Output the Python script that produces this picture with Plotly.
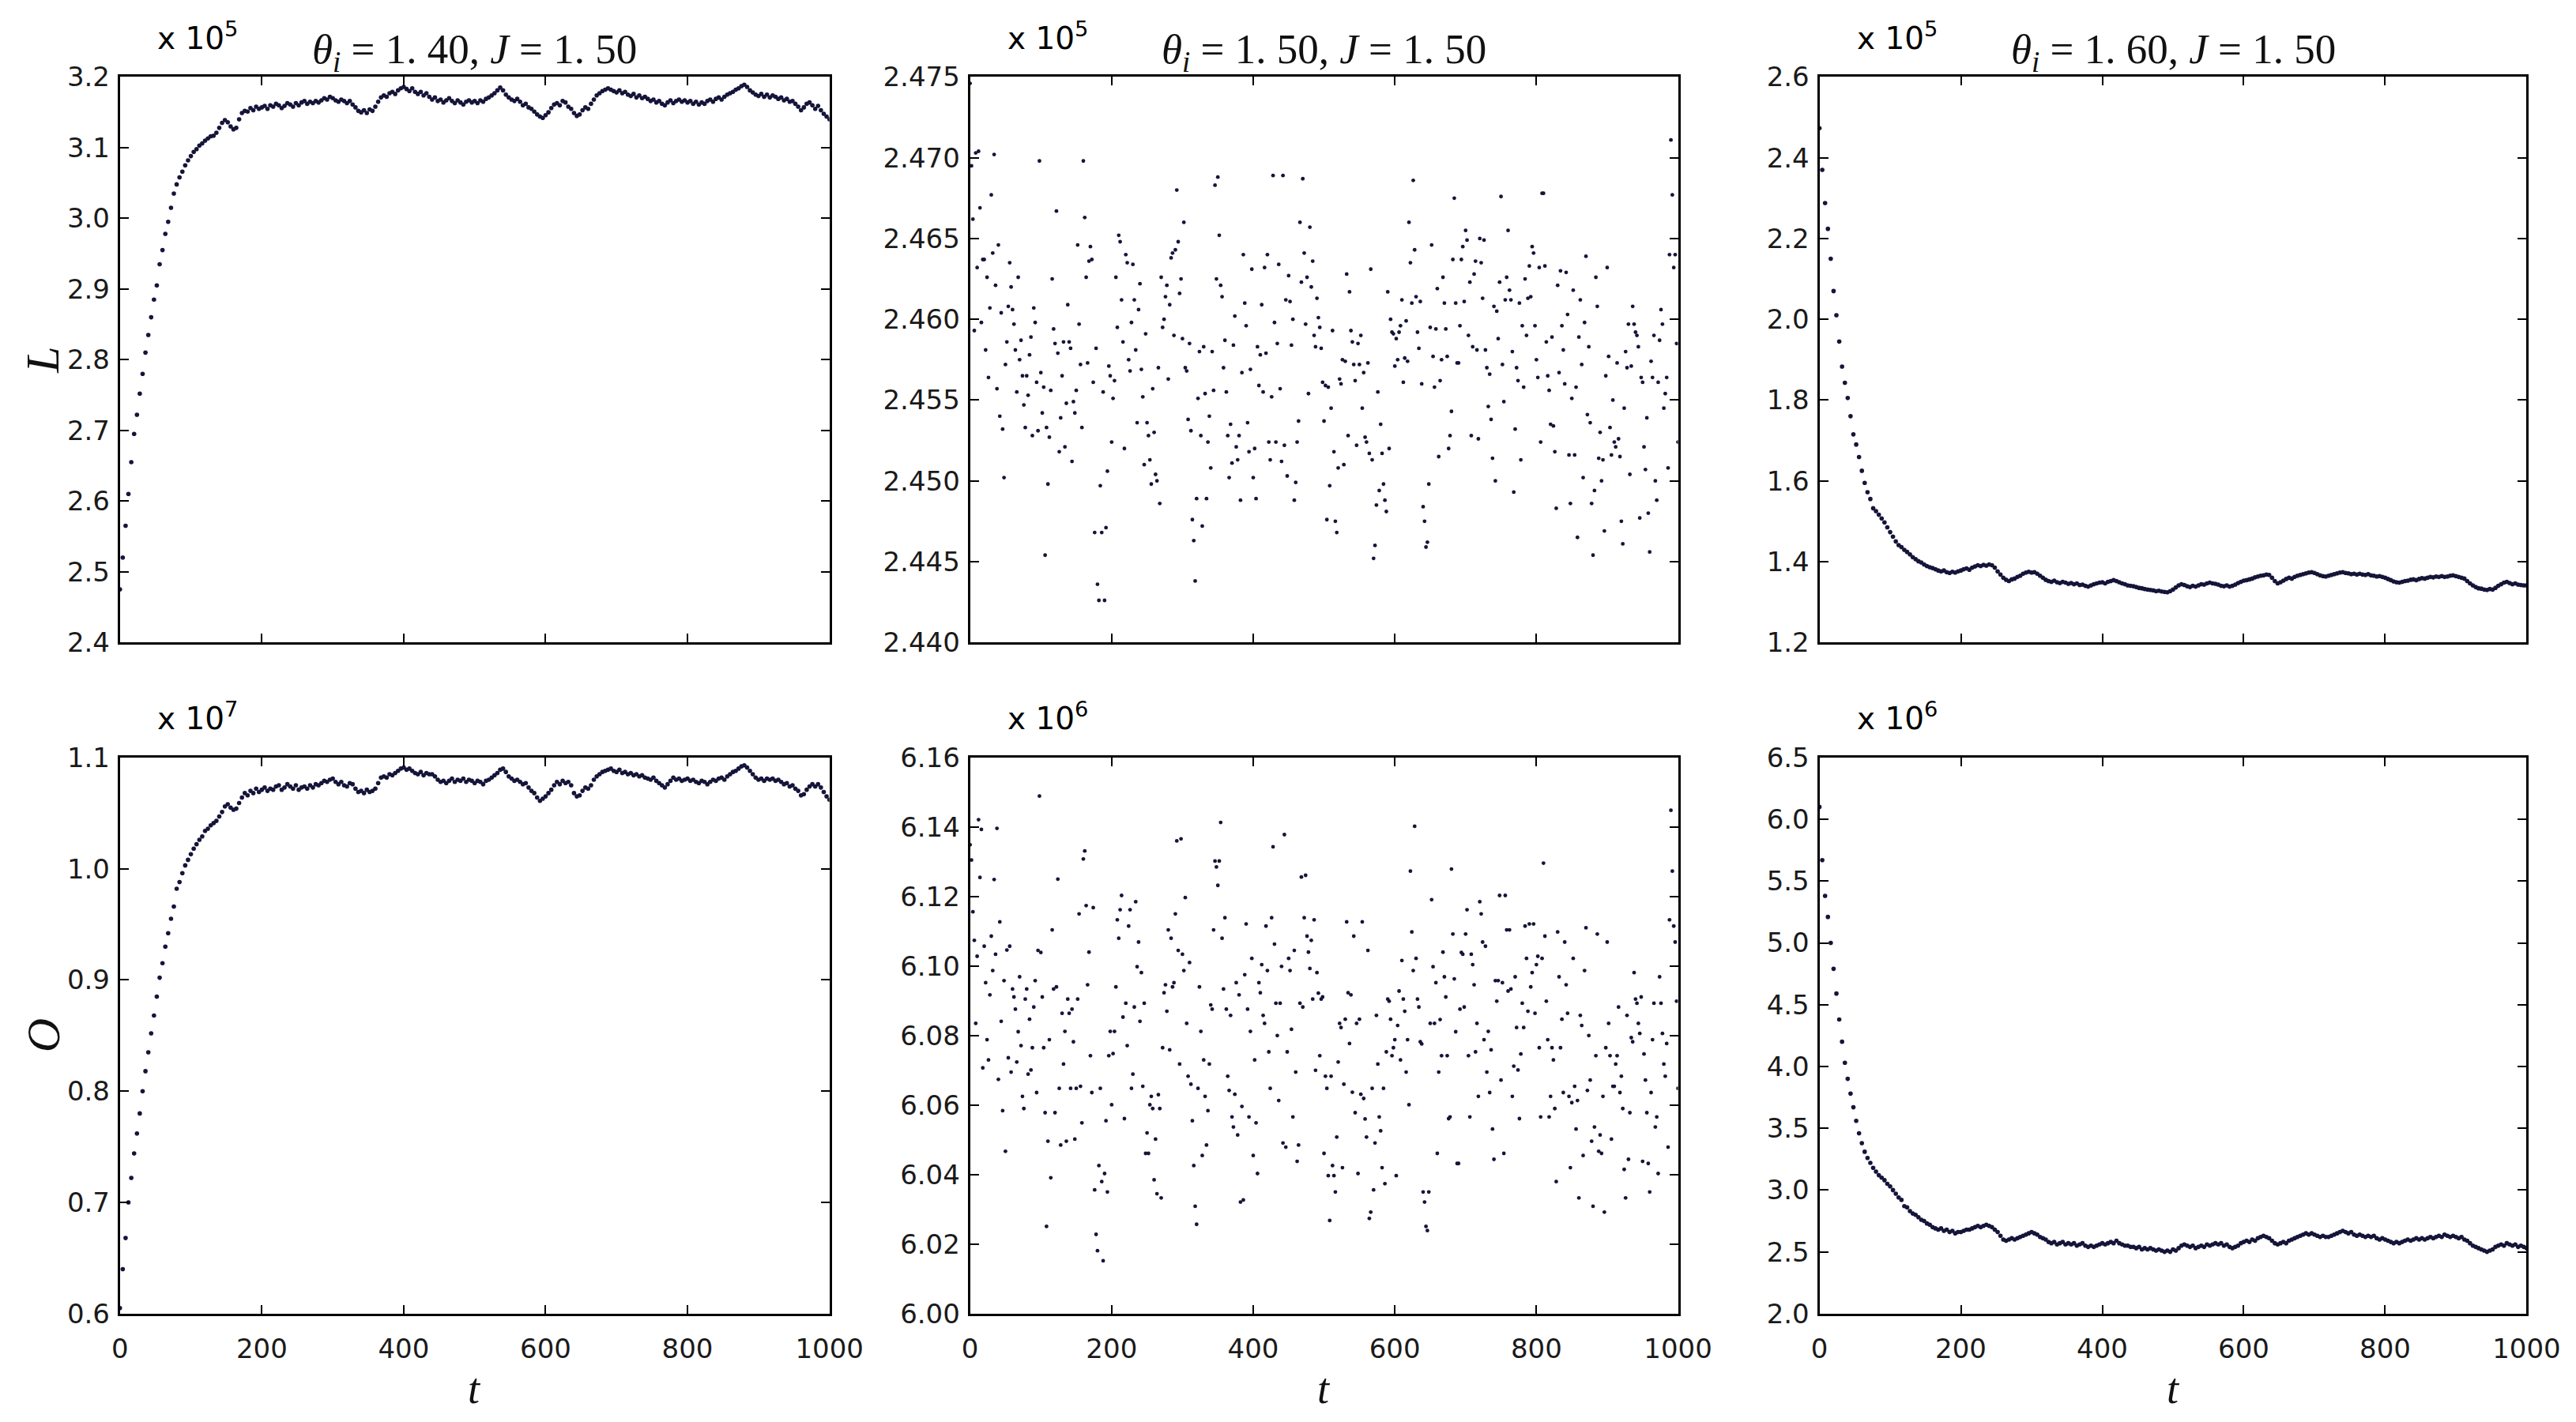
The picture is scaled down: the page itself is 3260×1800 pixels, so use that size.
import plotly.graph_objects as go
from plotly.subplots import make_subplots

W, H = 3260, 1800

# ---------------- data (values in the units shown on each axis) ----------------
# time step between stored samples
STEP_SMOOTH = 4
STEP_SCATTER = 2

# L (x10^5), theta_i = 1.40
L_140 = [
    2.475, 2.520, 2.565, 2.610, 2.655, 2.695, 2.722, 2.752, 2.780, 2.810,
    2.835, 2.860, 2.885, 2.905, 2.935, 2.955, 2.978, 2.995, 3.015, 3.035,
    3.048, 3.058, 3.066, 3.075, 3.082, 3.088, 3.094, 3.098, 3.103, 3.106,
    3.110, 3.113, 3.116, 3.117, 3.121, 3.128, 3.135, 3.139, 3.136, 3.130,
    3.126, 3.128, 3.140, 3.149, 3.152, 3.151, 3.156, 3.153, 3.158, 3.155,
    3.157, 3.159, 3.155, 3.160, 3.158, 3.162, 3.160, 3.156, 3.159, 3.163,
    3.161, 3.158, 3.163, 3.160, 3.164, 3.166, 3.162, 3.165, 3.163, 3.166,
    3.164, 3.167, 3.170, 3.168, 3.172, 3.170, 3.167, 3.165, 3.168, 3.166,
    3.163, 3.166, 3.161, 3.157, 3.152, 3.150, 3.153, 3.149, 3.154, 3.152,
    3.158, 3.165, 3.171, 3.174, 3.172, 3.177, 3.179, 3.176, 3.181, 3.184,
    3.186, 3.183, 3.180, 3.184, 3.179, 3.176, 3.179, 3.174, 3.177, 3.172,
    3.168, 3.171, 3.166, 3.168, 3.164, 3.167, 3.170, 3.166, 3.163, 3.167,
    3.164, 3.161, 3.165, 3.167, 3.164, 3.166, 3.163, 3.167, 3.165, 3.169,
    3.171, 3.174, 3.177, 3.181, 3.185, 3.181, 3.175, 3.171, 3.168, 3.166,
    3.169, 3.165, 3.160, 3.162, 3.157, 3.155, 3.151, 3.147, 3.144, 3.142,
    3.146, 3.150, 3.156, 3.161, 3.163, 3.160, 3.166, 3.164, 3.158, 3.155,
    3.149, 3.145, 3.147, 3.153, 3.157, 3.155, 3.162, 3.168, 3.174, 3.177,
    3.180, 3.182, 3.184, 3.182, 3.180, 3.178, 3.181, 3.177, 3.179, 3.175,
    3.173, 3.176, 3.171, 3.174, 3.170, 3.172, 3.169, 3.166, 3.168, 3.164,
    3.166, 3.162, 3.160, 3.164, 3.167, 3.163, 3.166, 3.168, 3.165, 3.167,
    3.164, 3.166, 3.162, 3.165, 3.161, 3.164, 3.162, 3.166, 3.168, 3.165,
    3.169, 3.171, 3.168, 3.172, 3.175, 3.177, 3.179, 3.182, 3.184, 3.187,
    3.189, 3.186, 3.181, 3.178, 3.175, 3.173, 3.176, 3.172, 3.175, 3.171,
    3.174, 3.172, 3.169, 3.171, 3.167, 3.169, 3.165, 3.166, 3.162, 3.158,
    3.153, 3.157, 3.162, 3.164, 3.160, 3.155, 3.159, 3.153, 3.148, 3.144,
    3.140,
]

# O (x10^7), theta_i = 1.40
O_140 = [
    0.605, 0.640, 0.668, 0.700, 0.722, 0.744, 0.762, 0.780, 0.800, 0.818,
    0.835, 0.852, 0.868, 0.885, 0.902, 0.915, 0.930, 0.942, 0.955, 0.966,
    0.982, 0.988, 0.996, 1.003, 1.008, 1.013, 1.018, 1.022, 1.026, 1.029,
    1.034, 1.036, 1.039, 1.041, 1.043, 1.047, 1.051, 1.056, 1.058, 1.055,
    1.053, 1.054, 1.059, 1.064, 1.068, 1.066, 1.070, 1.068, 1.072, 1.069,
    1.071, 1.073, 1.070, 1.072, 1.071, 1.074, 1.075, 1.071, 1.073, 1.076,
    1.074, 1.072, 1.075, 1.071, 1.073, 1.074, 1.072, 1.075, 1.073, 1.076,
    1.075, 1.077, 1.079, 1.078, 1.080, 1.081, 1.078, 1.076, 1.078, 1.075,
    1.074, 1.077, 1.076, 1.072, 1.069, 1.070, 1.068, 1.071, 1.069, 1.070,
    1.072, 1.077, 1.082, 1.083, 1.082, 1.085, 1.084, 1.086, 1.088, 1.090,
    1.091, 1.089, 1.090, 1.088, 1.086, 1.085, 1.087, 1.084, 1.086, 1.085,
    1.085, 1.083, 1.080, 1.078, 1.079, 1.077, 1.079, 1.081, 1.078, 1.080,
    1.079, 1.081, 1.078, 1.080, 1.079, 1.077, 1.079, 1.078, 1.076, 1.079,
    1.080, 1.082, 1.084, 1.086, 1.089, 1.090, 1.087, 1.083, 1.081, 1.079,
    1.080, 1.078, 1.076, 1.077, 1.073, 1.070, 1.068, 1.064, 1.061, 1.063,
    1.065, 1.068, 1.071, 1.075, 1.078, 1.076, 1.079, 1.077, 1.078, 1.075,
    1.068, 1.065, 1.066, 1.070, 1.073, 1.072, 1.075, 1.080, 1.083, 1.085,
    1.087, 1.088, 1.089, 1.090, 1.088, 1.087, 1.089, 1.086, 1.087, 1.085,
    1.086, 1.084, 1.085, 1.083, 1.084, 1.082, 1.081, 1.080, 1.082, 1.079,
    1.077, 1.075, 1.073, 1.076, 1.079, 1.082, 1.080, 1.081, 1.079, 1.080,
    1.081, 1.079, 1.080, 1.078, 1.077, 1.079, 1.078, 1.076, 1.078, 1.080,
    1.079, 1.081, 1.082, 1.080, 1.083, 1.085, 1.087, 1.088, 1.090, 1.092,
    1.093, 1.091, 1.088, 1.085, 1.082, 1.080, 1.081, 1.079, 1.081, 1.080,
    1.081, 1.079, 1.080, 1.078, 1.076, 1.077, 1.074, 1.075, 1.072, 1.070,
    1.066, 1.067, 1.071, 1.074, 1.076, 1.074, 1.076, 1.073, 1.069, 1.065,
    1.062,
]

# L (x10^5), theta_i = 1.60
L_160 = [
    2.473, 2.370, 2.288, 2.224, 2.150, 2.070, 2.010, 1.945, 1.883, 1.843,
    1.805, 1.760, 1.715, 1.690, 1.659, 1.625, 1.595, 1.572, 1.555, 1.532,
    1.525, 1.516, 1.507, 1.497, 1.485, 1.473, 1.462, 1.450, 1.441, 1.436,
    1.429, 1.424, 1.418, 1.411, 1.406, 1.401, 1.398, 1.393, 1.389, 1.386,
    1.384, 1.381, 1.378, 1.376, 1.378, 1.374, 1.372, 1.375, 1.373, 1.376,
    1.378, 1.381, 1.383, 1.380, 1.385, 1.388, 1.391, 1.389, 1.392, 1.390,
    1.393, 1.391, 1.385, 1.376, 1.368, 1.360, 1.355, 1.352, 1.356, 1.358,
    1.362, 1.365, 1.370, 1.373, 1.375, 1.373, 1.374, 1.370, 1.365, 1.360,
    1.355, 1.352, 1.350, 1.353, 1.349, 1.347, 1.350, 1.348, 1.345, 1.347,
    1.344, 1.346, 1.342, 1.343, 1.340, 1.338, 1.341, 1.344, 1.346, 1.348,
    1.349, 1.346, 1.350, 1.352, 1.354, 1.352, 1.349, 1.346, 1.344, 1.341,
    1.340, 1.339, 1.337, 1.335, 1.334, 1.332, 1.331, 1.330, 1.329, 1.327,
    1.328, 1.326, 1.325, 1.324, 1.327, 1.331, 1.336, 1.341, 1.344, 1.342,
    1.339, 1.337, 1.340, 1.338, 1.341, 1.344, 1.343, 1.346, 1.348, 1.346,
    1.345, 1.343, 1.340, 1.339, 1.341, 1.338, 1.340, 1.343, 1.347, 1.350,
    1.353, 1.354, 1.356, 1.358, 1.361, 1.363, 1.365, 1.366, 1.368, 1.367,
    1.360, 1.352, 1.346, 1.349, 1.353, 1.357, 1.360, 1.358, 1.362, 1.365,
    1.367, 1.369, 1.371, 1.373, 1.374, 1.372, 1.369, 1.366, 1.364, 1.363,
    1.365, 1.367, 1.369, 1.371, 1.373, 1.374, 1.372, 1.371, 1.369, 1.370,
    1.368, 1.370, 1.368, 1.367, 1.369, 1.366, 1.365, 1.363, 1.364, 1.362,
    1.360, 1.357, 1.354, 1.351, 1.349, 1.348, 1.350, 1.352, 1.353, 1.355,
    1.356, 1.354, 1.357, 1.359, 1.358, 1.360, 1.362, 1.361, 1.363, 1.362,
    1.364, 1.362, 1.363, 1.365, 1.366, 1.364, 1.362, 1.360, 1.358, 1.352,
    1.346, 1.341, 1.337, 1.334, 1.333, 1.331, 1.330, 1.332, 1.331, 1.335,
    1.340, 1.344, 1.348, 1.350, 1.347, 1.344, 1.346, 1.343, 1.342, 1.341,
    1.341,
]

# O (x10^6), theta_i = 1.60
O_160 = [
    6.10, 5.67, 5.38, 5.21, 5.00, 4.79, 4.59, 4.38, 4.20, 4.03,
    3.90, 3.78, 3.67, 3.56, 3.46, 3.38, 3.31, 3.26, 3.22, 3.18,
    3.15, 3.12, 3.10, 3.08, 3.05, 3.03, 3.00, 2.97, 2.94, 2.92,
    2.87, 2.86, 2.83, 2.81, 2.80, 2.78, 2.76, 2.75, 2.73, 2.72,
    2.70, 2.69, 2.68, 2.69, 2.67, 2.68, 2.66, 2.67, 2.65, 2.66,
    2.66, 2.67, 2.68, 2.68, 2.69, 2.70, 2.71, 2.70, 2.71, 2.72,
    2.71, 2.70, 2.68, 2.66, 2.63, 2.60, 2.59, 2.60, 2.61, 2.60,
    2.61, 2.62, 2.63, 2.64, 2.65, 2.66, 2.65, 2.64, 2.62, 2.61,
    2.60, 2.58, 2.57, 2.58, 2.56, 2.57, 2.58, 2.56, 2.57, 2.56,
    2.57, 2.55, 2.56, 2.57, 2.55, 2.54, 2.55, 2.54, 2.55, 2.56,
    2.57, 2.56, 2.57, 2.58, 2.57, 2.59, 2.57, 2.56, 2.55, 2.55,
    2.54, 2.54, 2.53, 2.54, 2.52, 2.53, 2.52, 2.53, 2.52, 2.51,
    2.52, 2.51, 2.50, 2.51, 2.50, 2.52, 2.51, 2.53, 2.55, 2.56,
    2.55, 2.54, 2.55, 2.53, 2.54, 2.55, 2.54, 2.56, 2.55, 2.56,
    2.57, 2.56, 2.57, 2.55, 2.56, 2.54, 2.53, 2.54, 2.55, 2.57,
    2.58, 2.59, 2.58, 2.60, 2.59, 2.61, 2.62, 2.63, 2.62, 2.61,
    2.59, 2.57, 2.56, 2.57, 2.58, 2.57, 2.59, 2.60, 2.61, 2.62,
    2.63, 2.64, 2.65, 2.64, 2.65, 2.64, 2.63, 2.62, 2.63, 2.62,
    2.62, 2.63, 2.64, 2.65, 2.66, 2.67, 2.66, 2.65, 2.66, 2.64,
    2.63, 2.64, 2.63, 2.62, 2.63, 2.62, 2.63, 2.61, 2.60, 2.61,
    2.60, 2.59, 2.58, 2.57, 2.58, 2.57, 2.58, 2.59, 2.60, 2.59,
    2.60, 2.61, 2.60, 2.61, 2.60, 2.61, 2.62, 2.61, 2.62, 2.63,
    2.62, 2.64, 2.63, 2.62, 2.63, 2.62, 2.61, 2.62, 2.60, 2.59,
    2.57, 2.55, 2.54, 2.53, 2.52, 2.51, 2.50, 2.51, 2.52, 2.54,
    2.55, 2.56, 2.55, 2.57, 2.56, 2.55, 2.56, 2.54, 2.55, 2.54,
    2.53,
]

# L (x10^5), theta_i = 1.50  (one sample every 2 time units)
L_150 = [
    2.4746, 2.4695, 2.4662, 2.4593, 2.4703, 2.4632, 2.4704, 2.4669, 2.4598, 2.4637,
    2.4637, 2.4581, 2.4626, 2.4564, 2.4607, 2.4677, 2.4641, 2.4702, 2.4621, 2.4557,
    2.4646, 2.4540, 2.4604, 2.4532, 2.4502, 2.4572, 2.4586, 2.4608, 2.4635, 2.4620,
    2.4606, 2.4597, 2.4581, 2.4555, 2.4626, 2.4575, 2.4587, 2.4565, 2.4547, 2.4533,
    2.4565, 2.4553, 2.4578, 2.4589, 2.4528, 2.4607, 2.4598, 2.4561, 2.4531, 2.4698,
    2.4567, 2.4542, 2.4558, 2.4454, 2.4533, 2.4498, 2.4527, 2.4556, 2.4625, 2.4594,
    2.4585, 2.4667, 2.4579, 2.4518, 2.4539, 2.4565, 2.4586, 2.4521, 2.4548, 2.4609,
    2.4586, 2.4582, 2.4512, 2.4549, 2.4542, 2.4556, 2.4646, 2.4597, 2.4572, 2.4533,
    2.4698, 2.4663, 2.4626, 2.4573, 2.4636, 2.4645, 2.4637, 2.4561, 2.4468, 2.4582,
    2.4436, 2.4426, 2.4497, 2.4468, 2.4555, 2.4426, 2.4471, 2.4506, 2.4571, 2.4565,
    2.4524, 2.4551, 2.4562, 2.4626, 2.4595, 2.4652, 2.4648, 2.4612, 2.4586, 2.4520,
    2.4640, 2.4635, 2.4575, 2.4568, 2.4598, 2.4634, 2.4612, 2.4581, 2.4536, 2.4606,
    2.4622, 2.4569, 2.4552, 2.4510, 2.4591,
    2.4536, 2.4528, 2.4513, 2.4498, 2.4557, 2.4530, 2.4504, 2.4500, 2.4570, 2.4486,
    2.4626, 2.4595, 2.4600, 2.4614, 2.4621, 2.4563, 2.4609, 2.4638, 2.4641, 2.4590,
    2.4643, 2.4680, 2.4648, 2.4616, 2.4625, 2.4588, 2.4660, 2.4570, 2.4568, 2.4538,
    2.4585, 2.4531, 2.4476, 2.4463, 2.4438, 2.4489, 2.4551, 2.4580, 2.4528, 2.4472,
    2.4583, 2.4554, 2.4489, 2.4524, 2.4540, 2.4508, 2.4580, 2.4556, 2.4683, 2.4625,
    2.4688, 2.4652, 2.4621, 2.4614, 2.4570, 2.4587, 2.4555, 2.4528, 2.4502, 2.4535,
    2.4511, 2.4584, 2.4602, 2.4521, 2.4513, 2.4528, 2.4488, 2.4567, 2.4640, 2.4610,
    2.4596, 2.4536, 2.4518, 2.4569, 2.4631, 2.4502, 2.4520, 2.4489, 2.4583, 2.4559,
    2.4578, 2.4609, 2.4555, 2.4632, 2.4579, 2.4640, 2.4524, 2.4513, 2.4552, 2.4689,
    2.4598, 2.4524, 2.4585, 2.4634, 2.4557, 2.4512, 2.4689, 2.4522, 2.4612, 2.4503,
    2.4627, 2.4611, 2.4584, 2.4600, 2.4488, 2.4499, 2.4524, 2.4537, 2.4660, 2.4623,
    2.4687, 2.4641, 2.4597, 2.4626, 2.4554, 2.4657, 2.4620, 2.4636, 2.4590, 2.4583,
    2.4613, 2.4601, 2.4595, 2.4582, 2.4561, 2.4537, 2.4559, 2.4476, 2.4558, 2.4497,
    2.4545, 2.4593, 2.4518, 2.4475, 2.4468, 2.4508, 2.4563, 2.4560, 2.4575, 2.4510,
    2.4574, 2.4628, 2.4528, 2.4617, 2.4593, 2.4586, 2.4572, 2.4562, 2.4522, 2.4585,
    2.4572, 2.4590, 2.4545, 2.4567, 2.4527, 2.4524, 2.4573, 2.4517, 2.4631, 2.4513,
    2.4452, 2.4460, 2.4485, 2.4555, 2.4494, 2.4535, 2.4517, 2.4498, 2.4488, 2.4481,
    2.4617, 2.4520, 2.4600, 2.4592, 2.4591, 2.4571, 2.4588, 2.4575, 2.4592, 2.4596,
    2.4612, 2.4561, 2.4576, 2.4599, 2.4574, 2.4660, 2.4635, 2.4610, 2.4686, 2.4643,
    2.4614, 2.4592, 2.4582, 2.4611, 2.4560, 2.4484, 2.4475, 2.4459, 2.4462, 2.4498,
    2.4595, 2.4646, 2.4577, 2.4558, 2.4594, 2.4619, 2.4515, 2.4562, 2.4575, 2.4626,
    2.4610, 2.4594, 2.4577, 2.4520, 2.4528, 2.4543, 2.4637, 2.4675, 2.4610, 2.4573,
    2.4573, 2.4596, 2.4637, 2.4645, 2.4611, 2.4655, 2.4649, 2.4590, 2.4623, 2.4528,
    2.4583, 2.4628, 2.4636, 2.4581, 2.4526, 2.4650, 2.4635, 2.4613, 2.4649, 2.4581,
    2.4570, 2.4546, 2.4566, 2.4538, 2.4514, 2.4608, 2.4500, 2.4605, 2.4588, 2.4623,
    2.4676, 2.4572, 2.4549, 2.4612, 2.4626, 2.4655, 2.4618, 2.4612, 2.4580, 2.4493,
    2.4532, 2.4570, 2.4562, 2.4610, 2.4513, 2.4596, 2.4558, 2.4625, 2.4590, 2.4613,
    2.4633, 2.4614, 2.4645, 2.4641, 2.4596, 2.4575, 2.4564, 2.4632, 2.4524, 2.4678,
    2.4678, 2.4633, 2.4586, 2.4565, 2.4556, 2.4535, 2.4589, 2.4534, 2.4518, 2.4483,
    2.4621, 2.4567, 2.4630, 2.4596, 2.4581, 2.4560, 2.4629, 2.4603, 2.4516, 2.4486,
    2.4551, 2.4618, 2.4516, 2.4558, 2.4465, 2.4589, 2.4612, 2.4572, 2.4502, 2.4598,
    2.4639, 2.4541, 2.4583, 2.4536, 2.4486, 2.4454, 2.4494, 2.4626, 2.4608, 2.4514,
    2.4530, 2.4500, 2.4513, 2.4469, 2.4565, 2.4632, 2.4577, 2.4533, 2.4516, 2.4550,
    2.4524, 2.4521, 2.4573, 2.4526, 2.4515, 2.4475, 2.4461, 2.4545, 2.4580, 2.4570,
    2.4597, 2.4504, 2.4571, 2.4608, 2.4597, 2.4592, 2.4590, 2.4583, 2.4477, 2.4564,
    2.4561, 2.4521, 2.4507, 2.4539, 2.4480, 2.4456, 2.4574, 2.4564, 2.4590, 2.4500,
    2.4488, 2.4561, 2.4587, 2.4606, 2.4597, 2.4545, 2.4554, 2.4564, 2.4508, 2.4640,
    2.4711, 2.4677, 2.4632, 2.4640, 2.4585, 2.4524,
]

# O (x10^6), theta_i = 1.50  (one sample every 2 time units)
O_150 = [
    6.1349, 6.1305, 6.1156, 6.1074, 6.0835, 6.1028, 6.1421, 6.1255, 6.1393, 6.0707,
    6.1057, 6.0952, 6.0788, 6.0730, 6.0917, 6.1086, 6.0987, 6.1249, 6.1034, 6.1396,
    6.0674, 6.1127, 6.0841, 6.0584, 6.0958, 6.0467, 6.1046, 6.0736, 6.1057, 6.0695,
    6.0934, 6.0911, 6.0876, 6.0724, 6.0811, 6.0969, 6.0771, 6.0625, 6.0590, 6.0905,
    6.0934, 6.0689, 6.0847, 6.0701, 6.0765, 6.0882, 6.0958, 6.0636, 6.1045, 6.1489,
    6.1039, 6.0911, 6.0765, 6.0578, 6.0251, 6.0496, 6.0788, 6.0391, 6.1104, 6.0934,
    6.0578, 6.0940, 6.1250, 6.0648, 6.0485, 6.0864, 6.0718, 6.0812, 6.0496, 6.0905,
    6.0864, 6.0648, 6.0876, 6.0782, 6.0502, 6.0648, 6.0905, 6.1150, 6.0654, 6.0549,
    6.1308, 6.1331, 6.1174, 6.0946, 6.1040, 6.0742, 6.0636, 6.1168, 6.0356, 6.0228,
    6.0181, 6.0426, 6.0648, 6.0380, 6.0152, 6.0403, 6.0555, 6.0350, 6.0742, 6.0812,
    6.0601, 6.0748, 6.0812, 6.0940, 6.1133, 6.1080, 6.1162, 6.1203, 6.0853, 6.0561,
    6.0893, 6.0771, 6.1115, 6.1162, 6.0648, 6.0689, 6.0882, 6.1185, 6.0998, 6.1069,
    6.0841, 6.0981, 6.0654, 6.0893, 6.0461,
    6.0520, 6.0461, 6.0601, 6.0625, 6.0590, 6.0385, 6.0502, 6.0345, 6.0630, 6.0590,
    6.0333, 6.0765, 6.0923, 6.0946, 6.0870, 6.1104, 6.0759, 6.1080, 6.0940, 6.0952,
    6.1150, 6.1360, 6.1045, 6.0718, 6.1366, 6.1034, 6.0987, 6.1197, 6.0835, 6.0683,
    6.1010, 6.0660, 6.0555, 6.0426, 6.0309, 6.0257, 6.0648, 6.0940, 6.0812, 6.0455,
    6.0730, 6.0625, 6.0485, 6.0584, 6.0718, 6.0888, 6.0876, 6.1104, 6.1302, 6.1285,
    6.1232, 6.1302, 6.1413, 6.1080, 6.0934, 6.1139, 6.0876, 6.0683, 6.0642, 6.0858,
    6.0566, 6.0537, 6.0631, 6.0952, 6.0514, 6.0917, 6.0321, 6.0596, 6.0327, 6.0975,
    6.1121, 6.0876, 6.0566, 6.0812, 6.1022, 6.0455, 6.0730, 6.0549, 6.0403, 6.0952,
    6.0923, 6.1004, 6.0858, 6.0835, 6.1115, 6.0987, 6.0753, 6.0648, 6.1139, 6.1343,
    6.1063, 6.0893, 6.0800, 6.0613, 6.0893, 6.0999, 6.0491, 6.1378, 6.0479, 6.0753,
    6.1022, 6.0987, 6.0818, 6.0566, 6.1045, 6.0695, 6.0438, 6.0485, 6.0893, 6.1256,
    6.0882, 6.1139, 6.1261, 6.1086, 6.1040, 6.0993, 6.1074, 6.0905, 6.1133, 6.0700,
    6.0981, 6.0922, 6.0742, 6.0905, 6.0911, 6.0461, 6.0683, 6.0648, 6.0397, 6.0268,
    6.0683, 6.0426, 6.0397, 6.0350, 6.0508, 6.0724, 6.0835, 6.0823, 6.0420, 6.0660,
    6.0847, 6.1127, 6.0923, 6.0777, 6.0917, 6.0637, 6.1086, 6.0578, 6.0835, 6.0403,
    6.0847, 6.0631, 6.1127, 6.0619, 6.0560, 6.0508, 6.1045, 6.0274, 6.0292, 6.0648,
    6.0356, 6.0491, 6.0858, 6.0718, 6.0566, 6.0526, 6.0420, 6.0648, 6.0374, 6.0753,
    6.0905, 6.0899, 6.0847, 6.0742, 6.0765, 6.0788, 6.0397, 6.0829, 6.0928, 6.0730,
    6.1016, 6.0905, 6.0870, 6.0695, 6.0788, 6.0601, 6.1273, 6.1098, 6.0987, 6.1402,
    6.1022, 6.0905, 6.0882, 6.0782, 6.0776, 6.0350, 6.0321, 6.0251, 6.0239, 6.0350,
    6.0835, 6.1191, 6.0998, 6.0835, 6.0952, 6.0461, 6.0695, 6.0846, 6.0742, 6.1040,
    6.0969, 6.0911, 6.0742, 6.0561, 6.0566, 6.1279, 6.1092, 6.0963, 6.0811, 6.0432,
    6.0432, 6.0876, 6.1039, 6.1034, 6.0882, 6.1092, 6.1162, 6.0742, 6.0566, 6.1034,
    6.1004, 6.0946, 6.0753, 6.0835, 6.0625, 6.1185, 6.1150, 6.1069, 6.0788, 6.1057,
    6.0695, 6.0812, 6.0636, 6.0759, 6.0531, 6.0444, 6.0958, 6.0899, 6.0958, 6.1203,
    6.0672, 6.0952, 6.0461, 6.1203, 6.1104, 6.0928, 6.1104, 6.0934, 6.0625, 6.0712,
    6.0969, 6.0823, 6.0701, 6.0561, 6.0747, 6.0893, 6.0823, 6.1115, 6.1022, 6.0870,
    6.1121, 6.0940, 6.0981, 6.1121, 6.0864, 6.1004, 6.1028, 6.0765, 6.0566, 6.1022,
    6.1296, 6.1086, 6.0899, 6.0788, 6.0566, 6.0625, 6.0765, 6.0730, 6.0590, 6.0380,
    6.1098, 6.0969, 6.0765, 6.0847, 6.0636, 6.1069, 6.0946, 6.0864, 6.0625, 6.0420,
    6.0607, 6.1022, 6.0654, 6.0531, 6.0613, 6.0333, 6.0858, 6.0829, 6.0455, 6.0987,
    6.1110, 6.0642, 6.0800, 6.0672, 6.0496, 6.0309, 6.0537, 6.0742, 6.1092, 6.0467,
    6.0514, 6.0461, 6.0625, 6.0292, 6.0765, 6.1069, 6.0835, 6.0742, 6.0502, 6.0654,
    6.0654, 6.0718, 6.0742, 6.0882, 6.0636, 6.0683, 6.0590, 6.0415, 6.0333, 6.0858,
    6.0444, 6.0578, 6.0794, 6.0782, 6.0981, 6.0905, 6.0893, 6.0835, 6.0806, 6.0911,
    6.0438, 6.0747, 6.0672, 6.0578, 6.0432, 6.0350, 6.0636, 6.0788, 6.0893, 6.0537,
    6.0566, 6.0403, 6.0969, 6.0893, 6.0806, 6.0718, 6.0683, 6.0777, 6.0479, 6.1133,
    6.1448, 6.1273, 6.1115, 6.1069, 6.0899, 6.0648,
]

TITLES = ["1. 40", "1. 50", "1. 60"]
J_LABEL = "1. 50"
ROW_LABELS = ["L", "O"]
EXPONENTS = [[5, 5, 5], [7, 6, 6]]

# y-axis settings: (range, dtick, format)
Y_AXES = [
    [([2.4, 3.2], 0.1, ".1f"), ([2.440, 2.475], 0.005, ".3f"), ([1.2, 2.6], 0.2, ".1f")],
    [([0.6, 1.1], 0.1, ".1f"), ([6.00, 6.16], 0.02, ".2f"), ([2.0, 6.5], 0.5, ".1f")],
]
SERIES = [
    [(L_140, STEP_SMOOTH), (L_150, STEP_SCATTER), (L_160, STEP_SMOOTH)],
    [(O_140, STEP_SMOOTH), (O_150, STEP_SCATTER), (O_160, STEP_SMOOTH)],
]

# ---------------- layout geometry (pixels) ----------------
COL_PX = [(135, 1048), (1229, 2140), (2322, 3232)]
ROW_PX = [(71, 803), (952, 1672)]
DOT = "#15153a"
TICK_FONT = dict(family="DejaVu Sans", size=34, color="#1a1a1a")


def px_x(p):
    return p / W


def px_y(p):
    return 1 - p / H


fig = make_subplots(rows=2, cols=3)

for r in range(2):
    for c in range(3):
        vals, step = SERIES[r][c]
        t = [i * step for i in range(len(vals))]
        msize = 5.6 if step == STEP_SMOOTH else 4.8
        fig.add_trace(
            go.Scatter(
                x=t, y=vals, mode="markers",
                marker=dict(size=msize, color=DOT, line=dict(width=0)),
                showlegend=False, hoverinfo="skip",
            ),
            row=r + 1, col=c + 1,
        )
        x0, x1 = COL_PX[c]
        y0, y1 = ROW_PX[r]
        common = dict(
            showline=True, linecolor="black", linewidth=3, mirror="allticks",
            ticks="inside", ticklen=11, tickwidth=2, tickcolor="black",
            showgrid=False, zeroline=False, tickfont=TICK_FONT,
        )
        fig.update_xaxes(
            domain=[px_x(x0), px_x(x1)], range=[0, 1000], dtick=200, tick0=0,
            showticklabels=(r == 1), ticklabelstandoff=12,
            **common, row=r + 1, col=c + 1,
        )
        yr, dt, fmt = Y_AXES[r][c]
        fig.update_yaxes(
            domain=[px_y(y1), px_y(y0)], range=yr, dtick=dt, tick0=yr[0],
            tickformat=fmt, ticklabelstandoff=3,
            **common, row=r + 1, col=c + 1,
        )
        # exponent label
        fig.add_annotation(
            x=px_x(x0 + 46), y=px_y(y0 - 53), xref="paper", yref="paper",
            xanchor="left", yanchor="middle", showarrow=False,
            text=f"x 10<sup>{EXPONENTS[r][c]}</sup>",
            font=dict(family="DejaVu Sans", size=39, color="black"),
        )

for c in range(3):
    x0, x1 = COL_PX[c]
    xc = (x0 + x1) / 2
    fig.add_annotation(
        x=px_x(xc), y=px_y(39), xref="paper", yref="paper",
        xanchor="center", yanchor="middle", showarrow=False,
        text=f"<i>θ<sub>i</sub></i> = {TITLES[c]}, <i>J</i> = {J_LABEL}",
        font=dict(family="Liberation Serif", size=53, color="#111"),
    )
    fig.add_annotation(
        x=px_x(xc), y=px_y(1769), xref="paper", yref="paper",
        xanchor="center", yanchor="middle", showarrow=False,
        text="<i>t</i>",
        font=dict(family="Liberation Serif", size=54, color="#111"),
    )
for r in range(2):
    y0, y1 = ROW_PX[r]
    fig.add_annotation(
        x=px_x(36), y=px_y((y0 + y1) / 2), xref="paper", yref="paper",
        xanchor="center", yanchor="middle", showarrow=False, textangle=-90,
        text=f"<i>{ROW_LABELS[r]}</i>",
        font=dict(family="Liberation Serif", size=60, color="#111"),
    )

fig.update_layout(
    width=W, height=H, margin=dict(l=0, r=0, t=0, b=0),
    paper_bgcolor="white", plot_bgcolor="white",
)

fig.write_html("out.html")
